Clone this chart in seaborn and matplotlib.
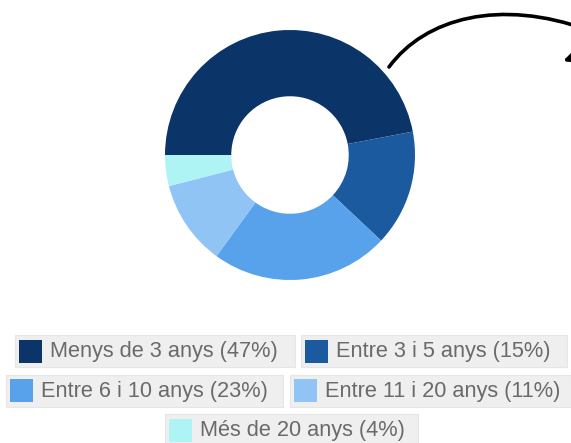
import matplotlib
matplotlib.use("Agg")
import matplotlib.pyplot as plt
import seaborn as sns
from matplotlib.patches import Rectangle, FancyArrowPatch
from matplotlib.path import Path

# Data
categories = ["Menys de 3 anys", "Entre 3 i 5 anys", "Entre 6 i 10 anys",
              "Entre 11 i 20 anys", "Més de 20 anys"]
values = [47, 15, 23, 11, 4]
colors = ["#0b3468", "#1b5a9e", "#57a2ea", "#8fc4f4", "#aef4f5"]

sns.set_theme(style="white")
plt.rcParams['font.family'] = ['Liberation Sans', 'DejaVu Sans']

W, H = 571, 443
fig = plt.figure(figsize=(W / 100, H / 100), dpi=100)
fig.patch.set_facecolor("white")

# Donut
cx, cy, R = 290, 155, 125
ax = fig.add_axes([(cx - R) / W, (H - cy - R) / H, 2 * R / W, 2 * R / H])
ax.pie(values, colors=sns.color_palette(colors), startangle=180, counterclock=False,
       radius=1.0, wedgeprops=dict(width=0.53, edgecolor="none"))
ax.set_xlim(-1, 1)
ax.set_ylim(-1, 1)
ax.set_aspect("equal")
ax.axis("off")

# Overlay in pixel coords
ov = fig.add_axes([0, 0, 1, 1])
ov.set_xlim(0, W)
ov.set_ylim(H, 0)
ov.axis("off")
ov.patch.set_alpha(0)

# Legend layout (box x0, x1, row center y)
boxes = [(15, 295, 351), (301, 567, 351),
         (6, 283, 390.5), (290, 571, 390.5),
         (165, 418, 430)]
box_h = 32
sq = 23
for (x0, x1, yc), cat, v, col in zip(boxes, categories, values, colors):
    ov.add_patch(Rectangle((x0, yc - box_h / 2), x1 - x0, box_h,
                           facecolor="#efefef", edgecolor="#e6e6e6", lw=0.8))
    ov.add_patch(Rectangle((x0 + 4, yc - sq / 2), sq, sq, facecolor=col, edgecolor="none"))
    ov.text(x0 + 4 + sq + 8, yc + 0.5, f"{cat} ({v}%)", fontsize=15.7, color="#6a6a6a",
            va="center", ha="left")

# Curved arrow (goes off the right edge and comes back)
verts = [(389, 67), (425, 18), (500, -2), (588, 30),
         (600, 38), (590, 52), (563, 61)]
codes = [Path.MOVETO, Path.CURVE4, Path.CURVE4, Path.CURVE4,
         Path.CURVE4, Path.CURVE4, Path.CURVE4]
arrow = FancyArrowPatch(path=Path(verts, codes),
                        arrowstyle="-|>,head_length=12,head_width=6",
                        color="black", lw=2.6, mutation_scale=1,
                        transform=ov.transData)
ov.add_patch(arrow)

fig.savefig("out.png", dpi=100, facecolor="white")
